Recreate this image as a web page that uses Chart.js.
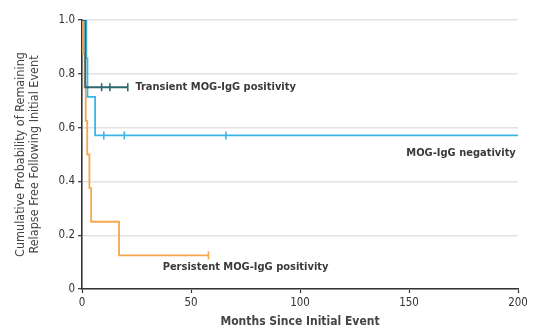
<!DOCTYPE html>
<html>
<head>
<meta charset="utf-8">
<script src="https://cdn.jsdelivr.net/npm/chart.js@4"></script>
<style>
  html, body { margin: 0; padding: 0; background: #fff; }
  #wrap { width: 533px; height: 333px; }
</style>
</head>
<body>
<div id="wrap"><canvas id="chart" width="533" height="333"></canvas></div>
<script>
// Kaplan-Meier steps (months, survival)
const transientTimes = [0, 1.5, 21];
const transientSurv  = [1.0, 0.75, 0.75];
const transientCensor = [9, 12.8, 21];

const negTimes = [0, 2, 2.5, 6, 200];
const negSurv  = [1.0, 0.857, 0.714, 0.571, 0.571];
const negCensor = [10, 19.4, 66];

const persTimes = [0, 0.5, 1.2, 1.7, 2.4, 3.4, 4.2, 17, 58];
const persSurv  = [1.0, 0.875, 0.75, 0.625, 0.5, 0.375, 0.25, 0.125, 0.125];
const persCensor = [58];

const xTicks = [0, 50, 100, 150, 200];
const yTicks = [0, 0.2, 0.4, 0.6, 0.8, 1.0];

const curveLabels = [
  { text: "Transient MOG-IgG positivity", x: 24.5, y: 0.75, align: "left" },
  { text: "MOG-IgG negativity", x: 199, y: 0.505, align: "right" },
  { text: "Persistent MOG-IgG positivity", x: 37, y: 0.082, align: "left" }
];

const FONT = "'Liberation Sans Narrow', 'DejaVu Sans Condensed', 'Arial Narrow', sans-serif";
const TEAL = "#2f6670", BLUE = "#3ab6e6", ORANGE = "#f5a84b";

function toPoints(times, surv) {
  return times.map((t, i) => ({ x: t, y: surv[i] }));
}
// survival value at a censor time (last step at or before t)
function survAt(times, surv, t) {
  let s = surv[0];
  for (let i = 0; i < times.length; i++) if (times[i] <= t) s = surv[i];
  return s;
}
function censorPoints(times, surv, cens) {
  return cens.map(t => ({ x: t, y: survAt(times, surv, t) }));
}

function kmSet(label, times, surv, color) {
  return { label, data: toPoints(times, surv), borderColor: color, borderWidth: 1.8,
           stepped: true, pointRadius: 0, fill: false, order: 2 };
}
function censorSet(label, times, surv, cens, color) {
  return { label, type: "scatter", data: censorPoints(times, surv, cens), borderColor: color,
           backgroundColor: color, pointStyle: "line", rotation: 90, pointRadius: 4,
           borderWidth: 1.6, showLine: false, order: 1 };
}

const textPlugin = {
  id: "curveText",
  afterDatasetsDraw(c) {
    const ctx = c.ctx, xs = c.scales.x, ys = c.scales.y;
    ctx.save();
    ctx.font = "bold 11px " + FONT;
    ctx.fillStyle = "#3a3a3a";
    ctx.textBaseline = "middle";
    curveLabels.forEach(l => {
      ctx.textAlign = l.align;
      ctx.fillText(l.text, xs.getPixelForValue(l.x), ys.getPixelForValue(l.y));
    });
    ctx.restore();
  }
};

Chart.defaults.font.family = FONT;
Chart.defaults.color = "#333";

new Chart(document.getElementById("chart").getContext("2d"), {
  type: "line",
  data: {
    datasets: [
      kmSet("Transient", transientTimes, transientSurv, TEAL),
      kmSet("Negativity", negTimes, negSurv, BLUE),
      kmSet("Persistent", persTimes, persSurv, ORANGE),
      censorSet("Transient censored", transientTimes, transientSurv, transientCensor, TEAL),
      censorSet("Negativity censored", negTimes, negSurv, negCensor, BLUE),
      censorSet("Persistent censored", persTimes, persSurv, persCensor, ORANGE)
    ]
  },
  options: {
    responsive: false,
    animation: false,
    layout: { padding: { left: 10, top: 20, right: 15, bottom: 0 } },
    plugins: { legend: { display: false }, tooltip: { enabled: false } },
    scales: {
      x: {
        type: "linear", min: 0, max: 200,
        afterBuildTicks: s => { s.ticks = xTicks.map(v => ({ value: v })); },
        afterFit: s => { s.height = 44; },
        grid: { drawOnChartArea: false, drawTicks: true, tickLength: 4, color: "#333", tickWidth: 1.2 },
        border: { color: "#333", width: 1.6 },
        ticks: { font: { size: 11.5 }, color: "#333", padding: 3, maxRotation: 0 },
        title: { display: true, text: "Months Since Initial Event", font: { size: 12, weight: "bold" }, color: "#444", padding: { top: 6 } }
      },
      y: {
        min: 0, max: 1,
        afterBuildTicks: s => { s.ticks = yTicks.map(v => ({ value: v })); },
        afterFit: s => { s.width = 72; },
        grid: { color: "#e2e2e2", lineWidth: 1.4, drawTicks: true, tickLength: 4, tickColor: "#333", tickWidth: 1.2 },
        border: { color: "#333", width: 1.6 },
        ticks: { font: { size: 11.5 }, color: "#333", padding: 3,
                 callback: v => v === 0 ? "0" : v.toFixed(1) },
        title: { display: true, text: ["Cumulative Probability of Remaining", "Relapse Free Following Initial Event"],
                 font: { size: 12.5, lineHeight: 1.1 }, color: "#444", padding: { bottom: 3 } }
      }
    }
  },
  plugins: [textPlugin]
});
</script>
</body>
</html>
